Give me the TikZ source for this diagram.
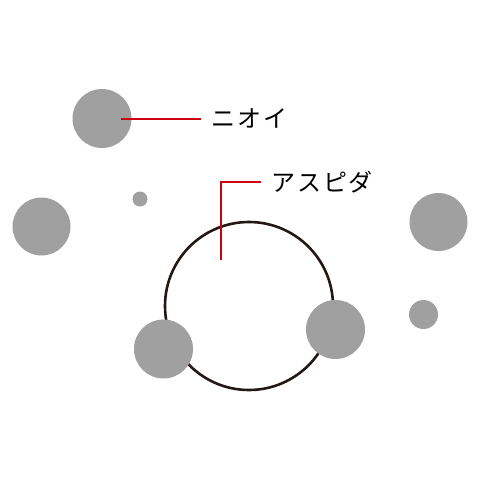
\documentclass[tikz,border=0pt]{standalone}
\usepackage{fontspec}
\newfontfamily\cjk[LetterSpace=8]{Noto Sans CJK JP}
\definecolor{dotgray}{HTML}{A0A0A0}
\definecolor{leadred}{HTML}{CC0011}
\definecolor{ringblack}{HTML}{231815}
\begin{document}
\begin{tikzpicture}[x=1pt,y=-1pt,
  dot/.style={circle,fill=dotgray,draw=none,inner sep=0pt,minimum size=#1},
  lead/.style={draw=leadred,line width=2pt},
  lbl/.style={anchor=west,inner sep=0pt,font=\cjk\fontsize{24}{24}\selectfont},
  ring/.style={circle,draw=ringblack,line width=2.6pt,inner sep=0pt,minimum size=168pt}]
\useasboundingbox (0,0) rectangle (480,480);
\node[ring] (ring) at (249,306) {};
\node[dot=59pt] (d1) at (102,118.5) {};
\node[dot=15pt] (d2) at (140,199) {};
\node[dot=58pt] (d3) at (41.5,226.5) {};
\node[dot=58pt] (d4) at (438.5,222) {};
\node[dot=59pt] (d5) at (163.5,349) {};
\node[dot=59pt] (d6) at (335.5,329.5) {};
\node[dot=29pt] (d7) at (423.5,314.5) {};
\coordinate (s1) at (121,118.5);
\coordinate (e1) at (200.5,118.5);
\node[lbl] (t1) at (211,118.5) {ニオイ};
\draw[lead] (s1) -- (e1);
\coordinate (s2) at (221,260);
\coordinate (k2) at (221,182);
\coordinate (e2) at (261,182);
\node[lbl] (t2) at (271,182) {アスピダ};
\draw[lead] (s2) -- (k2) -- (e2);
\end{tikzpicture}
\end{document}
